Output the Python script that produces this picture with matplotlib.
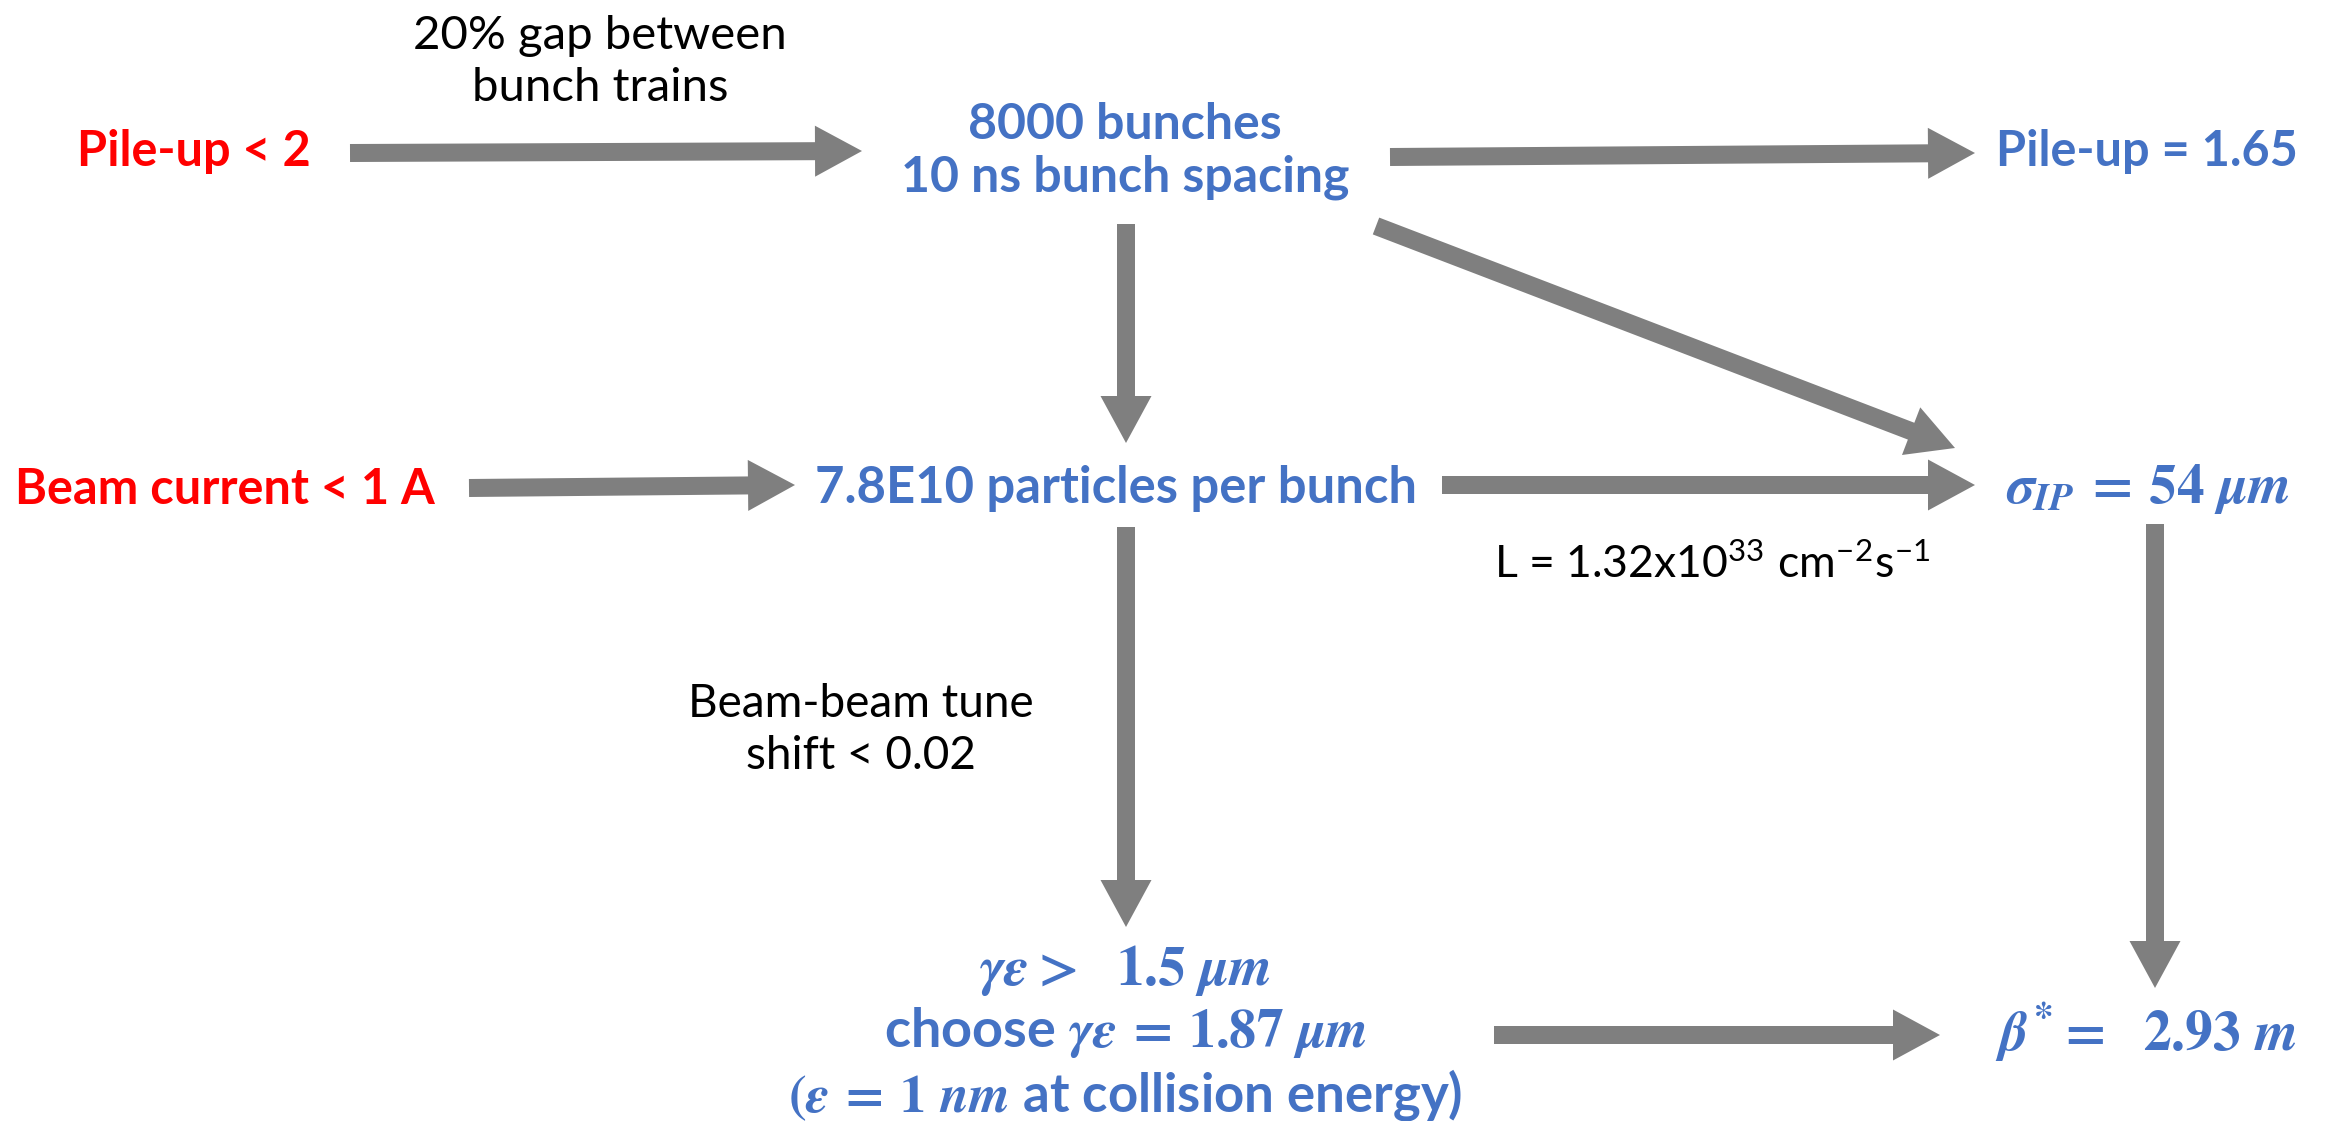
import matplotlib
matplotlib.use("Agg")
import matplotlib.pyplot as plt
from matplotlib.patches import FancyArrow

# ---------------- data (labels of the flow chart) ----------------
constraint_labels = ["Pile-up < 2", "Beam current < 1 A"]
result_labels = [
    "8000 bunches\n10 ns bunch spacing",
    "Pile-up = 1.65",
    "7.8E10 particles per bunch",
    r"$\sigma_{IP}\,=\,54\ \mu m$",
    r"$\gamma\varepsilon >\ \ 1.5\ \mu m$",
    r"choose $\gamma\varepsilon\,=\,1.87\ \mu m$",
    r"$(\varepsilon\,=\,1\ nm$ at collision energy)",
    r"$\beta^{*} =\ \ 2.93\ m$",
]
note_labels = [
    "20% gap between\nbunch trains",
    r"L = 1.32x10$^{\mathregular{33}}$ cm$^{\mathregular{-2}}$s$^{\mathregular{-1}}$",
    "Beam-beam tune\nshift < 0.02",
]

# ---------------- layout (pixel coordinates of a 2336x1121 canvas) ----------------
W, H = 2336, 1121
constraint_pos = [(194, 152), (225, 489)]
result_pos = [(1125, 151), (2147, 151), (1116, 489), (2148, 489),
              (1125, 971), (1125, 1033), (1125, 1095), (2146, 1032)]
result_size = [36, 35, 36.5, 40, 40, 39, 38, 40]
note_pos = [(600, 62), (1712, 565), (861, 730)]
note_size = [34, 32, 33]
arrows = [  # (x0, y0, x1, y1)
    (350, 153, 862, 151),
    (1390, 157, 1975, 153),
    (1126, 224, 1126, 443),
    (1376, 226, 1955, 448),
    (469, 488, 795, 485),
    (1442, 485, 1975, 485),
    (1126, 527, 1126, 927),
    (2155, 524, 2155, 988),
    (1494, 1035, 1940, 1035),
]

BLUE = "#4472C4"
RED = "#FF0000"
GREY = "#7F7F7F"

plt.rcParams["font.family"] = ["Lato", "DejaVu Sans"]
plt.rcParams["mathtext.fontset"] = "custom"
plt.rcParams["mathtext.it"] = "STIXGeneral:italic:bold"
plt.rcParams["mathtext.rm"] = "STIXGeneral:bold"
plt.rcParams["mathtext.bf"] = "STIXGeneral:bold"
plt.rcParams["mathtext.sf"] = "Lato:bold"

fig = plt.figure(figsize=(W / 100, H / 100), dpi=100)
ax = fig.add_axes([0, 0, 1, 1])
ax.set_xlim(0, W)
ax.set_ylim(H, 0)
ax.axis("off")

for (x0, y0, x1, y1) in arrows:
    ax.add_patch(FancyArrow(x0, y0, x1 - x0, y1 - y0, width=18, head_width=51,
                            head_length=47, length_includes_head=True,
                            color=GREY, lw=0))

for lab, (x, y) in zip(constraint_labels, constraint_pos):
    ax.text(x, y, lab, color=RED, fontsize=35, fontweight="bold",
            ha="center", va="center")

for lab, (x, y), s in zip(result_labels, result_pos, result_size):
    ax.text(x, y, lab, color=BLUE, fontsize=s, fontweight="bold",
            ha="center", va="center", linespacing=1.22)

for lab, (x, y), s in zip(note_labels, note_pos, note_size):
    ax.text(x, y, lab, color="black", fontsize=s, ha="center", va="center",
            linespacing=1.28)

fig.savefig("out.png", dpi=100, facecolor="white")
